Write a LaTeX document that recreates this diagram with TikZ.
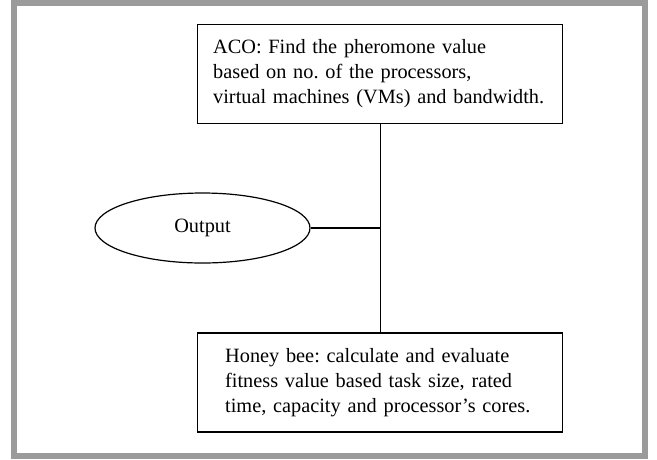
\documentclass[tikz,border=0pt]{standalone}
\usepackage{fontspec}
\setmainfont{Liberation Serif}
\usetikzlibrary{shapes.geometric}
\definecolor{framegray}{RGB}{155,155,155}
\begin{document}
\begin{tikzpicture}[x=1pt,y=-1pt,
  txt/.style={font=\fontsize{20.3}{25}\selectfont\frenchspacing},
  box/.style={draw, line width=1.2pt, rectangle, align=left, txt,
    minimum width=365pt, minimum height=99pt, inner ysep=0pt},
  oval/.style={draw, line width=1.2pt, ellipse, txt, inner sep=0pt,
    minimum width=215pt, minimum height=70pt},
  link/.style={line width=1.2pt}]
\useasboundingbox (0,0) rectangle (657,459);
\draw[framegray, line width=6pt] (14,3) rectangle (645,456);
\node[box, text width=334pt, inner xsep=15.5pt] (aco) at (380.2,73.6)
  {\mbox{ACO: Find the pheromone value}\\\mbox{based on no. of the processors,}\\\mbox{virtual machines (VMs) and bandwidth.}};
\node[box, text width=310pt, inner xsep=27.5pt] (bee) at (380.2,382.5)
  {\mbox{Honey bee: calculate and evaluate}\\\mbox{fitness value based task size, rated}\\\mbox{time, capacity and processor’s cores.}};
\node[oval] (out) at (202.5,228) {Output};
\coordinate (j) at (aco.south |- out.east);
\draw[link] (aco.south) -- (bee.north);
\draw[link] (out.east) -- (j);
\end{tikzpicture}
\end{document}
